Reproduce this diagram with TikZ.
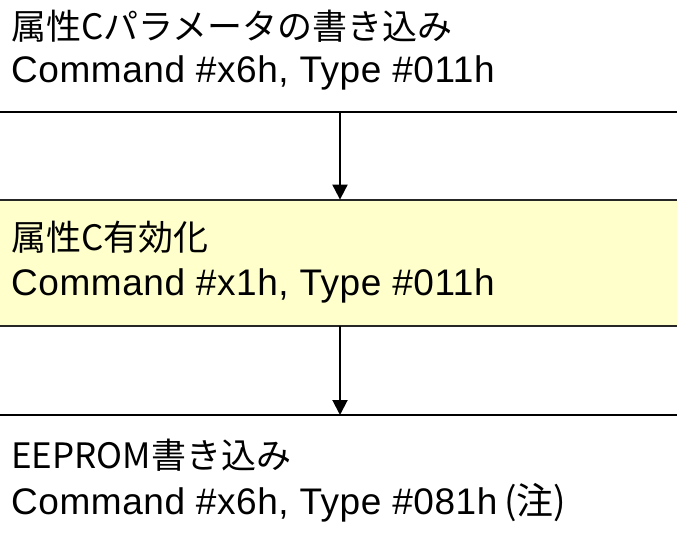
\documentclass[tikz,border=0pt]{standalone}
\usepackage{fontspec}
\setmainfont{Liberation Sans}[LetterSpace=1.5]
\newfontfamily\cjk{Noto Sans CJK JP}
\usetikzlibrary{arrows.meta}
\definecolor{paleyellow}{RGB}{255,255,204}
\tikzset{
  stepbox/.style={draw=black, line width=2pt, minimum width=700pt, inner sep=0pt, outer sep=0pt},
  jpline/.style={anchor=base west, inner sep=0pt, font=\cjk\fontsize{35pt}{40pt}\selectfont},
  enline/.style={anchor=base west, inner sep=0pt, font=\fontsize{37pt}{42pt}\selectfont},
  flow/.style={line width=2pt, -{Triangle[width=15pt,length=15pt]}}
}
\begin{document}
\begin{tikzpicture}[x=1pt,y=-1pt]
\useasboundingbox (0,0) rectangle (677,537);
\clip (0,0) rectangle (677,537);
\node[stepbox, minimum height=130pt] (b1) at (340,47) {};
\node[stepbox, fill=paleyellow, draw=black!85, minimum height=126pt] (b2) at (340,262.6) {};
\node[stepbox, minimum height=140pt] (b3) at (340,485) {};
\node[jpline] (t1a) at (11,40) {属性Cパラメータの書き込み};
\node[enline] (t1b) at (11,83) {Command \#x6h, Type \#011h};
\node[jpline] (t2a) at (11,251) {属性C有効化};
\node[enline] (t2b) at (11,295) {Command \#x1h, Type \#011h};
\node[jpline] (t3a) at (11,468) {EEPROM書き込み};
\node[enline] (t3b) at (11,514) {Command \#x6h, Type \#081h{\cjk\hspace{7pt}(注)}};
\draw[flow] (b1.south) -- (b2.north);
\draw[flow] (b2.south) -- (b3.north);
\end{tikzpicture}
\end{document}
